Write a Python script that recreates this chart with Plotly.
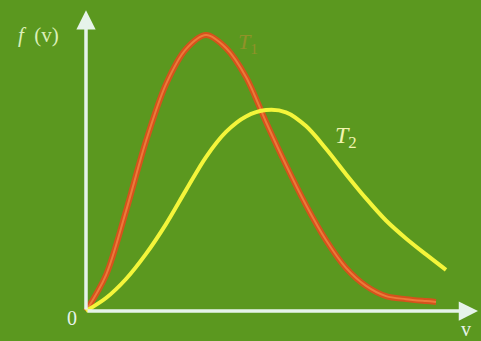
import plotly.graph_objects as go

# speed samples (arbitrary units) and distribution values
v_t1 = [0, 1, 2, 3, 4, 5, 6, 7, 8, 9, 10, 11, 12, 13, 14, 15, 16, 17, 17.5]
f_t1 = [0, 13.0, 36.2, 61.6, 82.2, 94.9, 100, 95.3, 84.8, 68.5, 52.9, 38.4,
        25.7, 15.6, 9.1, 5.4, 4.3, 3.6, 3.3]

v_t2 = [0, 1, 2, 3, 4, 5, 6, 7, 8, 9, 10, 11, 12, 13, 14, 15, 16, 17, 18]
f_t2 = [0, 4.7, 11.6, 20.7, 31.5, 43.8, 55.8, 64.9, 70.5, 72.8, 72.0, 67.0,
        58.8, 49.6, 40.8, 32.8, 26.3, 20.5, 14.9]

axis_colour = "#e6f3ea"
bg_colour = "#5b981f"

fig = go.Figure()

# T1 curve: dark orange outline with a lighter core
fig.add_trace(go.Scatter(x=v_t1, y=f_t1, mode="lines",
                         line=dict(color="#d6521c", width=6, shape="spline", smoothing=0.9),
                         hoverinfo="skip"))
fig.add_trace(go.Scatter(x=v_t1, y=f_t1, mode="lines",
                         line=dict(color="#ec7a3a", width=2, shape="spline", smoothing=0.9),
                         hoverinfo="skip"))

# T2 curve
fig.add_trace(go.Scatter(x=v_t2, y=f_t2, mode="lines",
                         line=dict(color="#f4f53a", width=4, shape="spline", smoothing=0.9),
                         hoverinfo="skip"))

# axes as arrows
fig.add_annotation(x=19.6, y=0, ax=0, ay=0, xref="x", yref="y", axref="x", ayref="y",
                   showarrow=True, arrowhead=2, arrowsize=1.1, arrowwidth=3.5, arrowcolor=axis_colour, text="")
fig.add_annotation(x=0, y=109, ax=0, ay=0, xref="x", yref="y", axref="x", ayref="y",
                   showarrow=True, arrowhead=2, arrowsize=1.1, arrowwidth=3.5, arrowcolor=axis_colour, text="")

serif = "Liberation Serif"
fig.add_annotation(x=-0.7, y=-2.5, text="0", showarrow=False,
                   font=dict(family=serif, size=20, color=axis_colour))
fig.add_annotation(x=19, y=-6.5, text="v", showarrow=False,
                   font=dict(family=serif, size=20, color=axis_colour))
fig.add_annotation(x=-2.4, y=100, text="<i>f</i>&nbsp;&nbsp;(v)", showarrow=False,
                   font=dict(family=serif, size=21, color="#dcefb8"))
fig.add_annotation(x=13.0, y=63, text="<i>T</i><sub>2</sub>", showarrow=False,
                   font=dict(family=serif, size=24, color="#f2f4b0"))
fig.add_annotation(x=8.1, y=97, text="<i>T</i><sub>1</sub>", showarrow=False, opacity=0.4,
                   font=dict(family=serif, size=22, color="#e08a3a"))

fig.update_xaxes(range=[-4.3, 19.75], visible=False)
fig.update_yaxes(range=[-10.87, 112.7], visible=False)
fig.update_layout(width=481, height=341, margin=dict(l=0, r=0, t=0, b=0),
                  plot_bgcolor=bg_colour, paper_bgcolor=bg_colour, showlegend=False)

fig.write_html("out.html", config={"displayModeBar": False},
               post_script="document.body.style.margin='0';")
